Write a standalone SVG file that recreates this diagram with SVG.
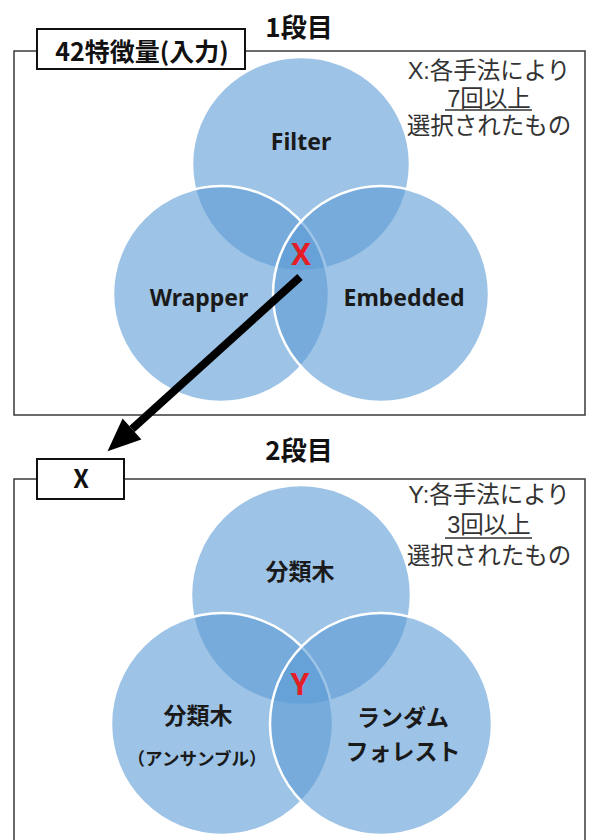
<svg xmlns="http://www.w3.org/2000/svg" width="592" height="840" viewBox="0 0 592 840">
  <style>
    .frame { fill: none; stroke: #3a3a3a; stroke-width: 1.5; }
    .lbox { fill: #fff; stroke: #111; stroke-width: 2; }
    .venn { fill: #5b9bd5; fill-opacity: 0.6; stroke: #fff; stroke-width: 2.5; }
    .title { font-family: "Noto Sans CJK JP", "Noto Sans", sans-serif; font-weight: bold; font-size: 26px; fill: #111; text-anchor: middle; }
    .lbl { font-family: "Noto Sans CJK JP", "Noto Sans", sans-serif; font-weight: bold; font-size: 25px; fill: #111; text-anchor: middle; }
    .note { font-family: "Liberation Sans", "Noto Sans CJK JP", sans-serif; font-size: 23.5px; fill: #333; text-anchor: middle; }
    .en { font-family: "Noto Sans", "Noto Sans CJK JP", sans-serif; font-weight: bold; font-size: 23px; fill: #1a1a1a; text-anchor: middle; }
    .jp { font-family: "Noto Sans CJK JP", "Noto Sans", sans-serif; font-weight: bold; font-size: 23px; fill: #1a1a1a; text-anchor: middle; }
    .jps { font-family: "Noto Sans CJK JP", "Noto Sans", sans-serif; font-weight: bold; font-size: 17.5px; fill: #1a1a1a; text-anchor: middle; }
    .mark { font-family: "Noto Sans", "Liberation Sans", sans-serif; font-weight: bold; font-size: 30px; fill: #e41e26; text-anchor: middle; }
    .ul { stroke: #333; stroke-width: 1.5; }
  </style>
  <defs>
    <marker id="ah" markerUnits="userSpaceOnUse" markerWidth="34" markerHeight="30" refX="0" refY="15" orient="auto" overflow="visible">
      <path d="M0,1 L33,15 L0,29 z" fill="#000"/>
    </marker>
  </defs>
  <rect width="592" height="840" fill="#fff"/>

  <!-- Stage 1 -->
  <g id="stage1">
    <text class="title" x="299" y="37">1段目</text>
    <rect class="frame" x="14" y="51" width="571" height="364"/>
  </g>
  <g id="input-label">
    <rect class="lbox" x="37" y="29" width="208" height="40"/>
    <text class="lbl" x="142" y="61">42特徴量(入力)</text>
  </g>
  <g id="note1">
    <text class="note" x="489" y="79">X:各手法により</text>
    <text class="note" x="489" y="106.5">7回以上</text>
    <line class="ul" x1="445" y1="110" x2="532" y2="110"/>
    <text class="note" x="489" y="134">選択されたもの</text>
  </g>
  <g id="filter">
    <ellipse class="venn" cx="301" cy="164" rx="109" ry="107"/>
    <text class="en" x="301" y="150">Filter</text>
  </g>
  <g id="wrapper">
    <circle class="venn" cx="221" cy="294" r="108"/>
    <text class="en" x="199" y="306">Wrapper</text>
  </g>
  <g id="embedded">
    <circle class="venn" cx="381" cy="294" r="108"/>
    <text class="en" x="404" y="306">Embedded</text>
  </g>
  <g id="x-mark">
    <text class="mark" x="301" y="265">X</text>
  </g>

  <!-- Stage 2 -->
  <g id="stage2">
    <text class="title" x="299" y="460">2段目</text>
    <rect class="frame" x="14" y="479" width="571" height="400"/>
  </g>
  <g id="x-label">
    <rect class="lbox" x="37" y="459" width="87" height="40"/>
    <text class="lbl" x="81" y="488">X</text>
  </g>
  <g id="note2">
    <text class="note" x="489" y="503">Y:各手法により</text>
    <text class="note" x="489" y="533">3回以上</text>
    <line class="ul" x1="445" y1="538" x2="532" y2="538"/>
    <text class="note" x="489" y="564">選択されたもの</text>
  </g>
  <g id="tree">
    <circle class="venn" cx="301" cy="595" r="110"/>
    <text class="jp" x="300" y="580">分類木</text>
  </g>
  <g id="tree-ensemble">
    <circle class="venn" cx="222" cy="724" r="111"/>
    <text class="jp" x="198" y="724">分類木</text>
    <text class="jps" x="197" y="765">（アンサンブル）</text>
  </g>
  <g id="random-forest">
    <circle class="venn" cx="381" cy="724" r="111"/>
    <text class="jp" x="403" y="726">ランダム</text>
    <text class="jp" x="403" y="760">フォレスト</text>
  </g>
  <g id="y-mark">
    <text class="mark" x="300" y="695">Y</text>
  </g>

  <g id="connectors">
    <line x1="300" y1="277" x2="132" y2="429" stroke="#000" stroke-width="8" marker-end="url(#ah)"/>
  </g>
</svg>
